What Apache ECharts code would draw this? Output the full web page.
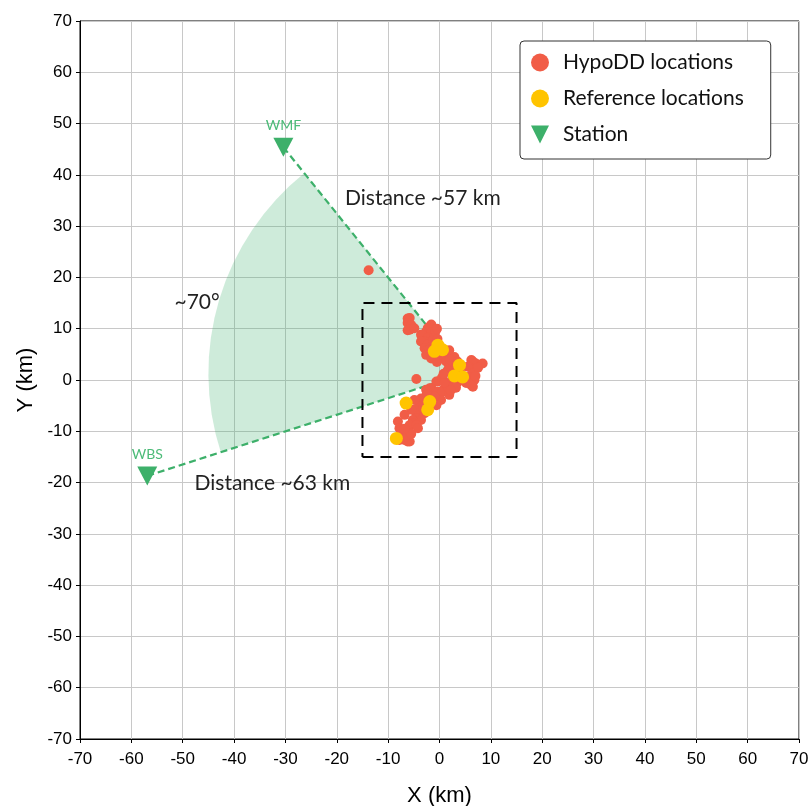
<!DOCTYPE html>
<html>
<head>
<meta charset="utf-8">
<script src="https://cdn.jsdelivr.net/npm/echarts@6/dist/echarts.min.js"></script>
<style>
html,body{margin:0;padding:0;background:#fff;}
#chart{width:811px;height:806px;}
</style>
</head>
<body>
<div id="chart"></div>
<script>
// ---- data ----
const axisTicks = [-70,-60,-50,-40,-30,-20,-10,0,10,20,30,40,50,60,70];

const hypoddLocations = [
  [-6.2,12.0],[-5.8,12.1],[-6.2,11.1],[-5.5,10.7],[-5.8,9.8],[-6.2,9.7],[-4.9,10.1],
  [-1.9,10.4],[-1.6,10.8],[-2.3,10.1],[-2.6,9.4],[-1.3,9.1],[-1.6,9.2],[-3.6,8.8],
  [-3.3,8.8],[-1.9,8.4],[-2.3,8.2],[-1.0,8.5],[-2.9,7.5],[-3.6,7.5],[-1.6,7.2],
  [-2.3,6.9],[-2.9,6.2],[-2.3,5.8],[-2.6,4.9],[-1.3,4.5],[-1.6,4.6],[-1.6,4.2],
  [0.0,4.2],[1.0,4.9],[1.3,3.6],[2.3,3.6],[1.9,2.6],[1.9,5.8],[2.9,4.5],[-1.0,6.8],
  [-0.8,9.5],[-1.2,7.8],[-0.5,10.0],[-0.4,8.0],[0.2,5.0],[-0.5,3.5],
  [6.2,3.9],[6.5,3.6],[7.1,3.2],[8.4,3.2],[5.8,2.6],[5.5,2.6],[6.5,1.3],[5.5,0.6],
  [6.2,0.6],[6.8,0.0],[5.2,0.0],[6.2,-1.0],[6.5,-1.3],[5.2,-0.6],[1.6,1.9],[3.0,2.0],
  [4.0,1.5],[3.5,-0.5],[2.0,4.0],[3.5,3.6],[7.5,2.4],[7.0,0.8],
  [1.9,-0.6],[1.3,-1.6],[-0.3,-0.3],[-0.6,-0.3],[-1.6,-1.6],[-1.9,-1.6],[-2.6,-1.9],
  [-1.0,-2.9],[-0.3,-2.3],[1.0,-1.6],[0.6,-2.3],[1.6,-1.3],[2.6,-1.0],[1.9,-2.9],
  [0.3,-3.9],[-1.0,-3.2],[-0.6,-4.9],[-1.9,-4.5],[-2.9,-3.6],[-3.6,-3.6],[-3.9,-4.5],
  [-3.9,-5.2],[-4.9,-3.9],[-4.9,-5.8],[-4.5,-6.5],[-5.5,-5.8],[-3.6,-6.8],[-2.9,-6.5],
  [-4.5,-7.5],[-3.6,-7.8],[-5.2,-7.8],[-5.2,-8.4],[-5.8,-8.8],[-4.5,-8.8],[-4.2,-9.4],
  [-8.1,-8.1],[-7.8,-9.4],[-7.5,-9.7],[-7.1,-11.4],[-6.8,-11.7],[-7.8,-11.7],[-6.2,-12.0],
  [-5.8,-12.0],[-6.5,-11.0],[-6.8,-6.8],[-4.5,0.2],[-13.8,21.4],
  [0.5,0.5],[1.0,-0.5],[2.5,0.3],[0.8,1.2],[3.2,-1.5],[2.2,-2.0],
  [-2.5,-2.8],[-3.2,-5.5],[-5.5,-10.5],[-6.8,-9.5]
];

const referenceLocations = [
  [-0.3,6.8],[-1.0,5.6],[0.6,5.9],[3.9,2.9],[2.9,0.8],[4.5,0.6],
  [-6.5,-4.5],[-1.9,-4.2],[-2.3,-5.8],[-8.4,-11.4]
];

const stationNames = ['WMF','WBS'];
const stationCoords = [[-30.4,45.4],[-56.9,-18.7]];

const clusterCenter = [5.0,1.3];
const sectorRadiusKm = 50;

const studyBox = [[-15,-15],[15,-15],[15,15],[-15,15],[-15,-15]];

const annotationTexts = ['Distance ~57 km','Distance ~63 km','~70\u00b0'];
const annotationCoords = [[-18.5,35.5],[-47.8,-20.1],[-51.7,15.2]];

// ---- styles ----
const RED = '#F15D47', YELLOW = '#FFC400', GREEN = '#3DB06A';
const TICK_FONT = '"Liberation Sans", sans-serif';
const TEXT_FONT = 'Lato, "Open Sans", sans-serif';

const chart = echarts.init(document.getElementById('chart'), null, {renderer:'canvas'});

function ang(st){ // math angle (deg) from center to station
  return Math.atan2(st[1]-clusterCenter[1], st[0]-clusterCenter[0]) * 180 / Math.PI;
}
const a1 = ang(stationCoords[0]); // WMF
let a2 = ang(stationCoords[1]);   // WBS
if (a2 < 0) a2 += 360;

const axisCommon = {
  type:'value', min:-70, max:70, interval:10,
  axisLine:{show:true, onZero:false, lineStyle:{color:'#000', width:1}},
  axisTick:{show:true, inside:false, length:4, lineStyle:{color:'#000'}},
  splitLine:{show:true, lineStyle:{color:'#c8c8c8', width:1}},
  nameLocation:'middle',
  nameTextStyle:{color:'#000', fontSize:22, fontFamily:TICK_FONT}
};

const option = {
  animation:false,
  backgroundColor:'#fff',
  grid:{left:80, top:21, width:719, height:718, show:true, borderColor:'#000', borderWidth:1,
        containLabel:false, outerBoundsMode:'none'},
  xAxis:Object.assign({}, axisCommon, {name:'X (km)', nameGap:46,
        axisLabel:{color:'#000', fontSize:17, fontFamily:TICK_FONT, margin:12}}),
  yAxis:Object.assign({}, axisCommon, {name:'Y (km)', nameGap:43,
        axisLabel:{color:'#000', fontSize:17, fontFamily:TICK_FONT, margin:8}}),
  legend:{
    orient:'vertical', left:520, top:41,
    padding:[11,27,14,11],
    itemWidth:36, itemHeight:18, itemGap:15,
    backgroundColor:'#fff', borderColor:'#333', borderWidth:1, borderRadius:4,
    textStyle:{fontSize:21, fontFamily:TEXT_FONT, color:'#111', lineHeight:21},
    data:[
      {name:'HypoDD locations', icon:'circle'},
      {name:'Reference locations', icon:'circle'},
      {name:'Station', icon:'path://M0,0 L10,0 L5,10 Z'}
    ]
  },
  series:[
    {
      name:'sector', type:'custom', z:1, silent:true,
      data:[clusterCenter],
      renderItem:function(params, api){
        const c = api.coord([api.value(0), api.value(1)]);
        const r = api.size([sectorRadiusKm, 0])[0];
        return {
          type:'sector',
          shape:{cx:c[0], cy:c[1], r0:0, r:r,
                 startAngle:-a2*Math.PI/180, endAngle:-a1*Math.PI/180, clockwise:true},
          style:{fill:'rgba(61,176,106,0.25)'}
        };
      }
    },
    {
      name:'lineWMF', type:'line', z:2, silent:true, symbol:'none',
      data:[stationCoords[0], clusterCenter],
      lineStyle:{color:GREEN, width:2.2, type:[7,4]}
    },
    {
      name:'lineWBS', type:'line', z:2, silent:true, symbol:'none',
      data:[stationCoords[1], clusterCenter],
      lineStyle:{color:GREEN, width:2.2, type:[7,4]}
    },
    {
      name:'box', type:'line', z:2, silent:true, symbol:'none',
      data:studyBox,
      lineStyle:{color:'#000', width:2, type:[11,7]}
    },
    {
      name:'HypoDD locations', type:'scatter', z:3,
      symbol:'circle', symbolSize:10,
      itemStyle:{color:RED, opacity:1},
      data:hypoddLocations
    },
    {
      name:'Reference locations', type:'scatter', z:4,
      symbol:'circle', symbolSize:13,
      itemStyle:{color:YELLOW, opacity:1},
      data:referenceLocations
    },
    {
      name:'Station', type:'scatter', z:5,
      symbol:'path://M0,0 L10,0 L5,10 Z', symbolSize:[20,19],
      itemStyle:{color:GREEN, opacity:1},
      label:{show:true, position:'top', distance:5, color:'#4CBB78', fontSize:14, fontFamily:TEXT_FONT,
             formatter:function(p){return stationNames[p.dataIndex];}},
      data:stationCoords
    },
    {
      name:'annotations', type:'scatter', z:6, silent:true,
      symbol:'circle', symbolSize:1,
      itemStyle:{color:'rgba(0,0,0,0)', opacity:1},
      label:{show:true, position:'right', distance:0, color:'#222', fontSize:21, fontFamily:TEXT_FONT,
             formatter:function(p){return annotationTexts[p.dataIndex];}},
      data:annotationCoords
    }
  ]
};
chart.setOption(option);
</script>
</body>
</html>
